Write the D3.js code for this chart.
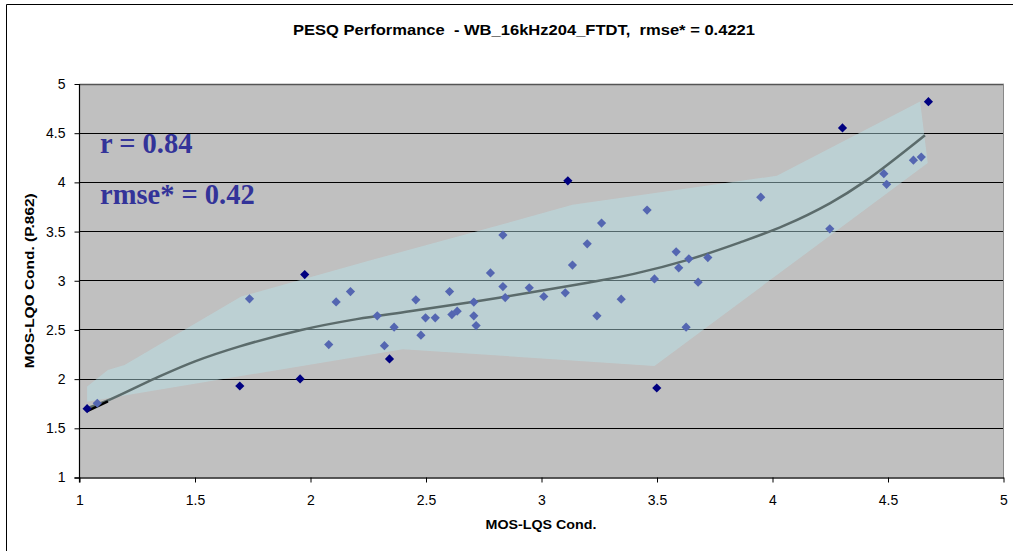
<!DOCTYPE html>
<html>
<head>
<meta charset="utf-8">
<script src="https://cdn.jsdelivr.net/npm/d3@7"></script>
<style>
  html, body { margin: 0; padding: 0; background: #fff; }
  svg { display: block; }
</style>
</head>
<body>
<svg id="chart" width="1013" height="551"></svg>
<script>
// ---- data ----
const chartTitle = "PESQ Performance  - WB_16kHz204_FTDT,  rmse* = 0.4221";
const xAxisTitle = "MOS-LQS Cond.";
const yAxisTitle = "MOS-LQO Cond. (P.862)";
const xTicks = [1, 1.5, 2, 2.5, 3, 3.5, 4, 4.5, 5];
const yTicks = [1, 1.5, 2, 2.5, 3, 3.5, 4, 4.5, 5];
const statLines = ["r = 0.84", "rmse* = 0.42"];

// outlier conditions (dark diamonds): [MOS-LQS, MOS-LQO]
const outlierPoints = [
  [1.033, 1.700], [1.694, 1.930], [1.975, 3.063], [1.955, 2.002],
  [2.342, 2.205], [3.114, 4.016], [3.499, 1.910], [4.303, 4.554],
  [4.675, 4.820]
];
// remaining conditions (lighter diamonds)
const normalPoints = [
  [1.077, 1.755], [1.736, 2.816], [2.079, 2.351], [2.111, 2.785],
  [2.173, 2.890], [2.289, 2.643], [2.320, 2.340], [2.362, 2.528],
  [2.456, 2.806], [2.478, 2.447], [2.498, 2.623], [2.540, 2.623],
  [2.602, 2.890], [2.612, 2.656], [2.635, 2.691], [2.707, 2.783],
  [2.707, 2.643], [2.717, 2.544], [2.779, 3.080], [2.833, 3.464],
  [2.833, 2.941], [2.843, 2.829], [2.947, 2.928], [3.010, 2.840],
  [3.103, 2.877], [3.134, 3.159], [3.198, 3.375], [3.260, 3.586],
  [3.240, 2.643], [3.345, 2.813], [3.457, 3.718], [3.489, 3.019],
  [3.583, 3.294], [3.594, 3.131], [3.638, 3.223], [3.626, 2.528],
  [3.678, 2.986], [3.720, 3.236], [3.949, 3.850], [4.248, 3.528],
  [4.482, 4.088], [4.494, 3.980], [4.610, 4.226], [4.644, 4.257]
];
// fitted mapping curve
const fitCurve = [
  [1.04, 1.71], [1.12, 1.78], [1.33, 2.01], [1.50, 2.18], [1.69, 2.33],
  [1.96, 2.50], [2.20, 2.61], [2.43, 2.69], [2.70, 2.785], [2.99, 2.895],
  [3.20, 2.98], [3.40, 3.07], [3.63, 3.21], [3.86, 3.39], [4.05, 3.56],
  [4.25, 3.79], [4.40, 4.01], [4.66, 4.48]
];
// short reference segment at low end
const refSegment = [[1.033, 1.675], [1.123, 1.775]];
// confidence band outline
const bandUpper = [
  [1.033, 1.924], [1.123, 2.094], [1.195, 2.144], [1.700, 2.839],
  [2.268, 3.213], [2.717, 3.500], [3.134, 3.772], [4.019, 4.067],
  [4.639, 4.823]
];
const bandLower = [
  [4.672, 4.196], [3.489, 2.134], [2.400, 2.304], [1.033, 1.771]
];

// ---- layout ----
const SANS = "'Liberation Sans', Arial, sans-serif";
const SERIF = "'Liberation Serif', 'Times New Roman', serif";
const svg = d3.select("#chart");
const x = d3.scaleLinear().domain([1, 5]).range([79.5, 1003.5]);
const y = d3.scaleLinear().domain([1, 5]).range([477.5, 84]);
const snap = v => Math.round(v) + 0.5;

// outer frame (cropped chart border)
svg.append("path")
  .attr("d", "M6.5,1013 L6.5,4.5 L1020,4.5")
  .attr("fill", "none").attr("stroke", "#000").attr("stroke-width", 1);

// plot background
svg.append("rect")
  .attr("x", x(1)).attr("y", y(5))
  .attr("width", x(5) - x(1)).attr("height", y(1) - y(5))
  .attr("fill", "#c0c0c0");

// gridlines
svg.append("g").selectAll("line")
  .data(yTicks.filter(v => v > 1 && v < 5))
  .join("line")
  .attr("x1", x(1)).attr("x2", x(5))
  .attr("y1", d => snap(y(d) - 0.5)).attr("y2", d => snap(y(d) - 0.5))
  .attr("stroke", "#000").attr("stroke-width", 1);

// top & right plot border
svg.append("line").attr("x1", x(1)).attr("x2", x(5) + 0.5)
  .attr("y1", snap(y(5) - 0.5)).attr("y2", snap(y(5) - 0.5))
  .attr("stroke", "#555").attr("stroke-width", 1.5);
svg.append("line").attr("x1", x(5)).attr("x2", x(5))
  .attr("y1", y(5)).attr("y2", y(1))
  .attr("stroke", "#888").attr("stroke-width", 1);

// confidence band
const bandPoly = bandUpper.concat(bandLower);
svg.append("path")
  .attr("d", d3.line().x(d => x(d[0])).y(d => y(d[1]))(bandPoly) + "Z")
  .attr("fill", "rgb(185,228,234)").attr("fill-opacity", 0.45)
  .attr("stroke", "none");

// fit curve
svg.append("path")
  .attr("d", d3.line().x(d => x(d[0])).y(d => y(d[1])).curve(d3.curveCatmullRom.alpha(0.5))(fitCurve))
  .attr("fill", "none").attr("stroke", "#5b6b6b").attr("stroke-width", 2.5);
svg.append("path")
  .attr("d", d3.line().x(d => x(d[0])).y(d => y(d[1]))(refSegment))
  .attr("fill", "none").attr("stroke", "#000").attr("stroke-width", 2.5);

// axes
const xAxis = d3.axisBottom(x).tickValues(xTicks).tickSize(5).tickPadding(13)
  .tickFormat(d3.format("~g"));
const gx = svg.append("g").attr("transform", `translate(0,${y(1)})`).call(xAxis);
gx.select(".domain").attr("d", `M${x(1) - 5},0.5H${x(5) + 0.5}`).attr("stroke", "#222").attr("stroke-width", 1.5);
gx.selectAll(".tick line").attr("stroke", "#000");
gx.selectAll(".tick text").attr("fill", "#000")
  .style("font-family", SANS).style("font-size", "14px");

const yAxis = d3.axisLeft(y).tickValues(yTicks).tickSize(5).tickPadding(9)
  .tickFormat(d3.format("~g"));
const gy = svg.append("g").attr("transform", `translate(${x(1)},0)`).call(yAxis);
gy.select(".domain").attr("d", `M0,${y(5)}V${y(1) + 5}`).attr("stroke", "#000").attr("stroke-width", 1.2);
gy.selectAll(".tick line").attr("stroke", "#000");
gy.selectAll(".tick text").attr("fill", "#000")
  .style("font-family", SANS).style("font-size", "14px");

// points
const diamond = s => `M0,${-s}L${s},0L0,${s}L${-s},0Z`;
svg.append("g").selectAll("path")
  .data(normalPoints).join("path")
  .attr("d", diamond(4.6))
  .attr("transform", d => `translate(${x(d[0])},${y(d[1])})`)
  .attr("fill", "#5466b1");
svg.append("g").selectAll("path")
  .data(outlierPoints).join("path")
  .attr("d", diamond(4.6))
  .attr("transform", d => `translate(${x(d[0])},${y(d[1])})`)
  .attr("fill", "#000080");

// stat annotation
svg.append("g").selectAll("text")
  .data(statLines).join("text")
  .attr("x", 100).attr("y", (d, i) => 153 + i * 50.5)
  .style("font-family", SERIF)
  .style("font-size", "28.5px").style("font-weight", "bold")
  .attr("fill", "#333399")
  .text(d => d);

// titles
svg.append("text")
  .attr("x", 524).attr("y", 35)
  .attr("text-anchor", "middle")
  .style("font-family", SANS).style("font-size", "15px").style("font-weight", "bold")
  .style("white-space", "pre")
  .attr("textLength", 462).attr("lengthAdjust", "spacingAndGlyphs")
  .attr("fill", "#000")
  .text(chartTitle);
svg.append("text")
  .attr("x", 541).attr("y", 529)
  .attr("text-anchor", "middle")
  .style("font-family", SANS).style("font-size", "13.5px").style("font-weight", "bold")
  .attr("textLength", 111).attr("lengthAdjust", "spacingAndGlyphs")
  .attr("fill", "#000").text(xAxisTitle);
svg.append("text")
  .attr("transform", `translate(34,${(y(1) + y(5)) / 2}) rotate(-90)`)
  .attr("text-anchor", "middle")
  .style("font-family", SANS).style("font-size", "13.5px").style("font-weight", "bold")
  .attr("textLength", 175).attr("lengthAdjust", "spacingAndGlyphs")
  .attr("fill", "#000").text(yAxisTitle);
</script>
</body>
</html>
